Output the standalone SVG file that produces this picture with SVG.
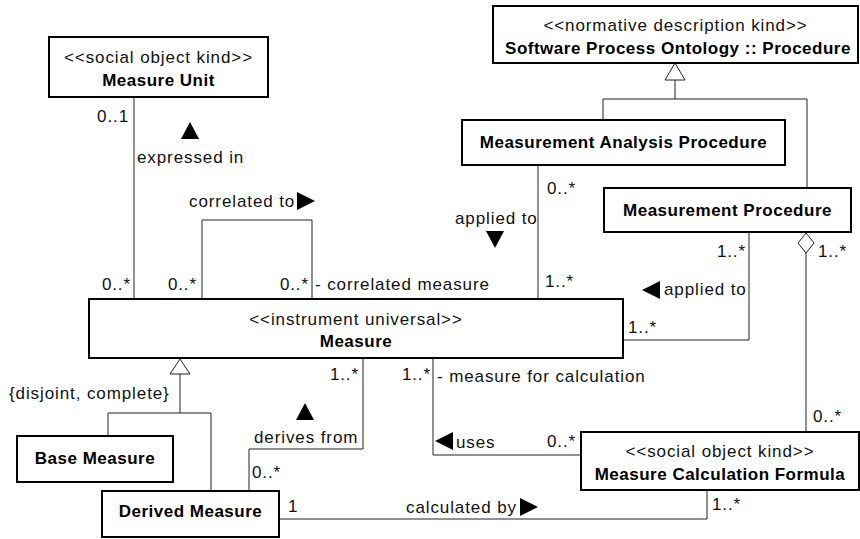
<svg xmlns="http://www.w3.org/2000/svg" width="860" height="539" viewBox="0 0 860 539">
<style>
.box{fill:#fff;stroke:#000;stroke-width:2}
.ln{fill:none;stroke:#222;stroke-width:1}
.t{font-family:"Liberation Sans",Arial,sans-serif;font-size:17px;letter-spacing:0.9px;fill:#111}
.b{font-family:"Liberation Sans",Arial,sans-serif;font-size:17px;font-weight:bold;letter-spacing:0.5px;fill:#000}
.m{text-anchor:middle}
.e{text-anchor:end}
.hollow{fill:#fff;stroke:#222;stroke-width:1}
.solid{fill:#000;stroke:none}
</style>
<rect width="860" height="539" fill="#fff"/>
<g id="connectors">
  <line class="ln" x1="134" y1="97" x2="134" y2="299"/>
  <polyline class="ln" points="202,299 202,220 312,220 312,299"/>
  <polyline class="ln" points="675,80 675,99"/>
  <polyline class="ln" points="603,120 603,99 807,99 807,188"/>
  <polygon class="hollow" points="675,63 665,80 685,80"/>
  <line class="ln" x1="538" y1="165" x2="538" y2="299"/>
  <polyline class="ln" points="749,232 749,340 623,340"/>
  <line class="ln" x1="806" y1="253" x2="806" y2="432"/>
  <polygon class="hollow" points="806,233 814,243 806,253 798,243"/>
  <polyline class="ln" points="180,374 180,413"/>
  <polyline class="ln" points="108,436 108,413 211,413 211,491"/>
  <polygon class="hollow" points="180,359 170,374 190,374"/>
  <polyline class="ln" points="363,358 363,449 249,449 249,491"/>
  <polyline class="ln" points="433,358 433,455 581,455"/>
  <polyline class="ln" points="279,519 707,519 707,490"/>
  <!-- labels -->
  <text class="t e" x="129" y="122">0..1</text>
  <polygon class="solid" points="190,122 181,139 199,139"/>
  <text class="t" x="137" y="163">expressed in</text>
  <text class="t" x="189" y="207">correlated to</text>
  <polygon class="solid" points="297,192 297,210 315,201"/>
  <text class="t e" x="131" y="290">0..*</text>
  <text class="t e" x="197" y="290">0..*</text>
  <text class="t e" x="309" y="290">0..*</text>
  <text class="t" x="315" y="290">- correlated measure</text>
  <text class="t" x="455" y="224">applied to</text>
  <polygon class="solid" points="486,231 504,231 495,248"/>
  <text class="t" x="547" y="194">0..*</text>
  <text class="t e" x="746" y="257">1..*</text>
  <text class="t" x="818" y="257">1..*</text>
  <text class="t" x="545" y="287">1..*</text>
  <polygon class="solid" points="642,290 660,281 660,299"/>
  <text class="t" x="664" y="295">applied to</text>
  <text class="t" x="628" y="333">1..*</text>
  <text class="t" x="813" y="422">0..*</text>
  <text class="t e" x="359" y="380">1..*</text>
  <text class="t e" x="431" y="380">1..*</text>
  <text class="t" x="437" y="382">- measure for calculation</text>
  <text class="t" x="9" y="399">{disjoint, complete}</text>
  <polygon class="solid" points="305,403 296,420 314,420"/>
  <text class="t" x="254" y="443">derives from</text>
  <text class="t" x="252" y="478">0..*</text>
  <text class="t" x="288" y="512">1</text>
  <polygon class="solid" points="435,441 453,432 453,450"/>
  <text class="t" x="456" y="448">uses</text>
  <text class="t" x="547" y="447">0..*</text>
  <text class="t" x="406" y="513">calculated by</text>
  <polygon class="solid" points="520,498 520,516 538,507"/>
  <text class="t" x="712" y="510">1..*</text>
</g>
<g id="measure-unit">
  <rect class="box" x="49" y="37" width="219" height="60"/>
  <text class="t m" x="158.5" y="63">&lt;&lt;social object kind&gt;&gt;</text>
  <text class="b m" x="158.5" y="86">Measure Unit</text>
</g>
<g id="procedure">
  <rect class="box" x="493" y="6" width="365" height="57"/>
  <text class="t m" x="675.5" y="31">&lt;&lt;normative description kind&gt;&gt;</text>
  <text class="b m" x="678" y="54">Software Process Ontology :: Procedure</text>
</g>
<g id="measurement-analysis-procedure">
  <rect class="box" x="462" y="120" width="323" height="45"/>
  <text class="b m" x="623.5" y="148">Measurement Analysis Procedure</text>
</g>
<g id="measurement-procedure">
  <rect class="box" x="604" y="188" width="247" height="44"/>
  <text class="b m" x="727.5" y="216">Measurement Procedure</text>
</g>
<g id="measure">
  <rect class="box" x="89" y="299" width="534" height="59"/>
  <text class="t m" x="356" y="325">&lt;&lt;instrument universal&gt;&gt;</text>
  <text class="b m" x="356" y="347">Measure</text>
</g>
<g id="base-measure">
  <rect class="box" x="17" y="436" width="156" height="46"/>
  <text class="b m" x="95" y="464">Base Measure</text>
</g>
<g id="derived-measure">
  <rect class="box" x="102" y="491" width="177" height="46"/>
  <text class="b m" x="190.5" y="517">Derived Measure</text>
</g>
<g id="measure-calculation-formula">
  <rect class="box" x="581" y="432" width="278" height="58"/>
  <text class="t m" x="720" y="457">&lt;&lt;social object kind&gt;&gt;</text>
  <text class="b m" x="720" y="480">Measure Calculation Formula</text>
</g>
</svg>
